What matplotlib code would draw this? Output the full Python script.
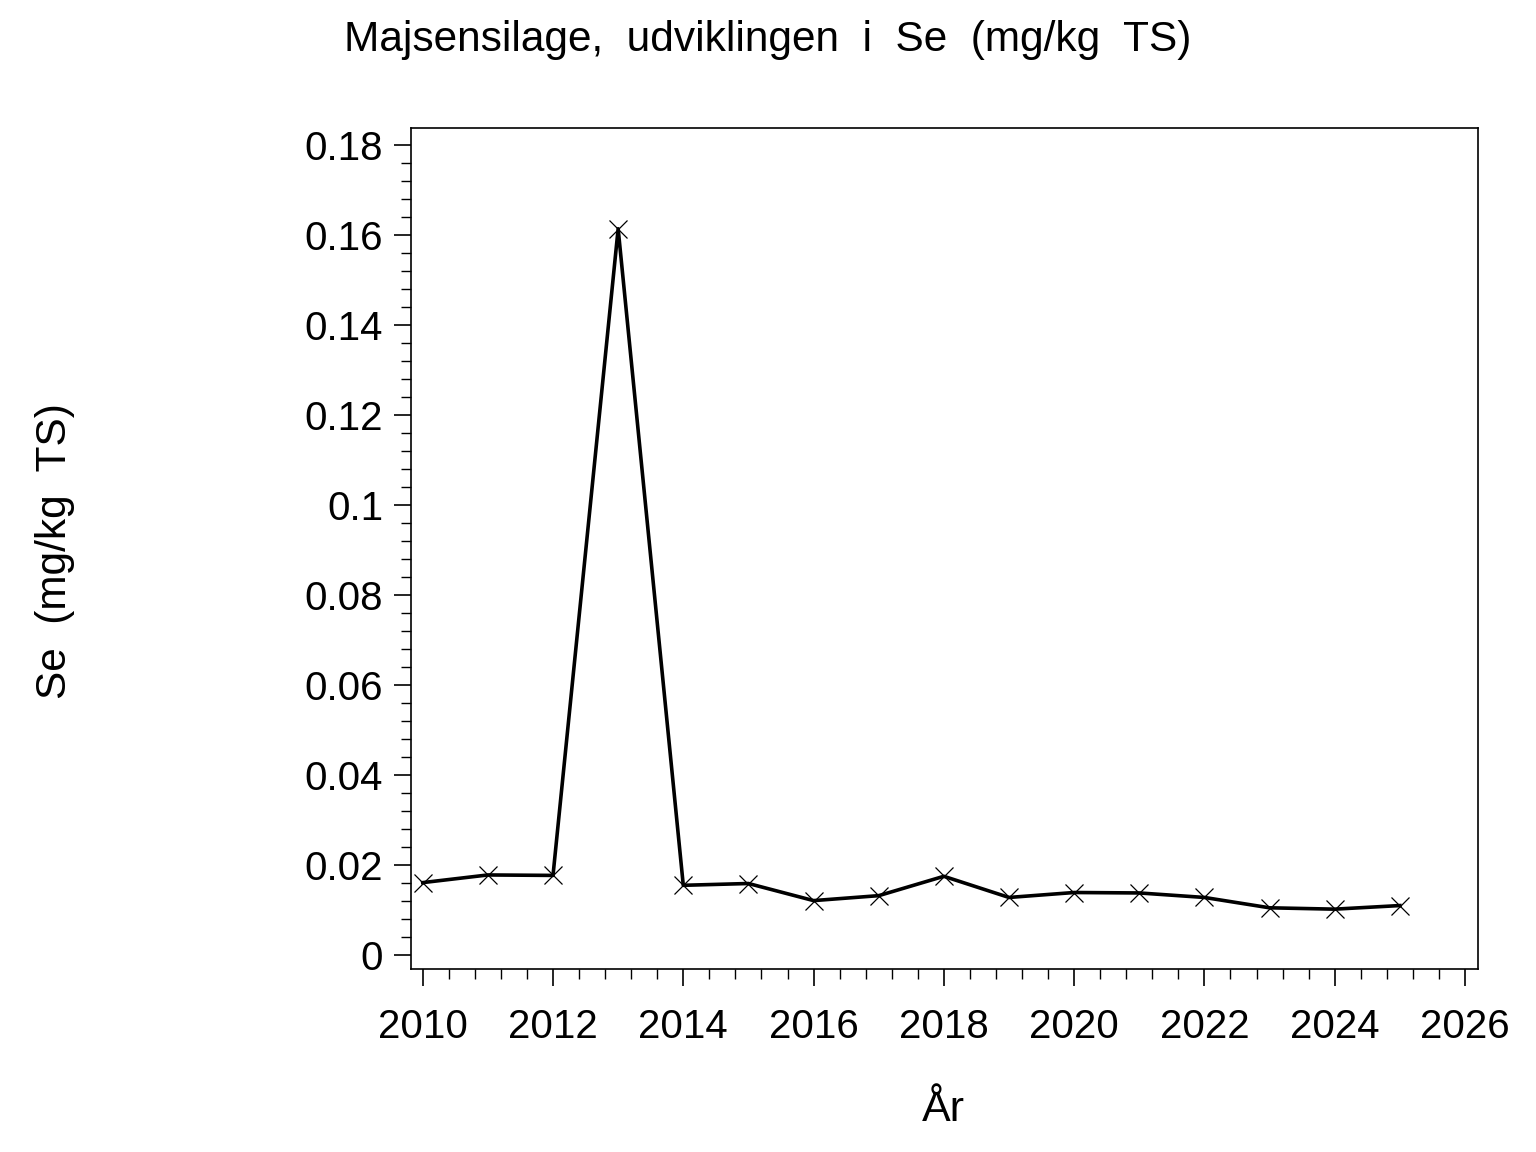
import matplotlib
matplotlib.use("Agg")
import matplotlib.pyplot as plt
from matplotlib.ticker import MultipleLocator

years = [2010, 2011, 2012, 2013, 2014, 2015, 2016, 2017,
         2018, 2019, 2020, 2021, 2022, 2023, 2024, 2025]
se = [0.0161, 0.0178, 0.0177, 0.1614, 0.0155, 0.0159, 0.0121, 0.0132,
      0.0175, 0.0128, 0.0139, 0.0138, 0.0128, 0.0105, 0.0102, 0.0110]
xticks = list(range(2010, 2027, 2))
yticks = [0, 0.02, 0.04, 0.06, 0.08, 0.1, 0.12, 0.14, 0.16, 0.18]
ylabels = ["0", "0.02", "0.04", "0.06", "0.08", "0.1", "0.12", "0.14", "0.16", "0.18"]

plt.rcParams["font.family"] = ["Liberation Sans", "DejaVu Sans"]

fig = plt.figure(figsize=(15.36, 11.52), dpi=100)
ax = fig.add_axes([411/1536, 1 - 969/1152, (1478-411)/1536, (969-128)/1152])

ax.plot(years, se, color="black", lw=2.6, marker="x", markersize=13,
        markeredgewidth=0.9, markeredgecolor="black")

ax.set_xlim(2009.82, 2026.2)
ax.set_ylim(-0.0031, 0.1838)
ax.set_xticks(xticks)
ax.set_xticklabels([str(x) for x in xticks])
ax.xaxis.set_minor_locator(MultipleLocator(0.4))
ax.set_yticks(yticks)
ax.set_yticklabels(ylabels)
ax.yaxis.set_minor_locator(MultipleLocator(0.004))

ax.tick_params(axis="both", which="major", length=12, width=1.2, labelsize=29, direction="out")
ax.tick_params(axis="both", which="minor", length=7, width=1, direction="out")
ax.tick_params(axis="x", which="major", pad=16)
ax.tick_params(axis="y", which="major", pad=8)
for s in ax.spines.values():
    s.set_linewidth(1.2)

fig.text(768/1536, 1 - 40/1152, "Majsensilage,  udviklingen  i  Se  (mg/kg  TS)",
         ha="center", va="center", fontsize=30.5)
fig.text(55/1536, 1 - 551/1152, "Se  (mg/kg  TS)", rotation=90,
         ha="center", va="center", fontsize=30.5)
fig.text(943/1536, 1 - 1110/1152, "År", ha="center", va="center", fontsize=31)

fig.savefig("out.png", dpi=100)
